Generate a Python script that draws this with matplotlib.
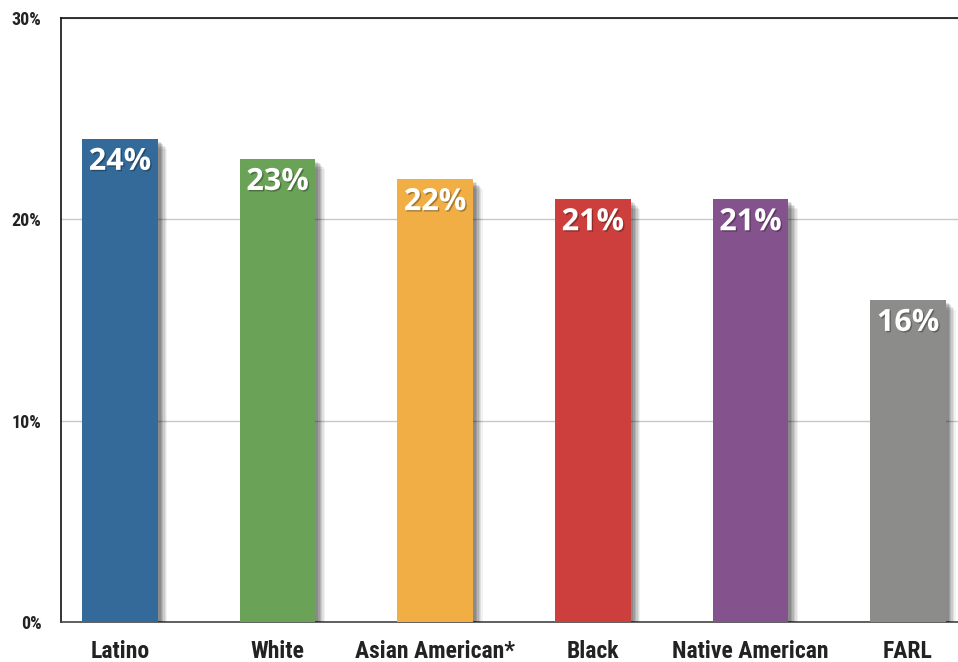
import numpy as np
import matplotlib as mpl
import matplotlib.pyplot as plt
import matplotlib.patheffects as pe
from matplotlib import font_manager

# Chart data
categories = ['Latino', 'White', 'Asian American*', 'Black', 'Native American', 'FARL']
values = [24, 23, 22, 21, 21, 16]
colors = ['#336a9a', '#6aa257', '#f0ae45', '#cd3f3c', '#84528c', '#8c8d8b']
yticks = [0, 10, 20, 30]
ytick_labels = ['0%', '10%', '20%', '30%']

# pick a narrow bold face if one is installed
names = set(f.name for f in font_manager.fontManager.ttflist)
narrow = [n for n in ['Liberation Sans Narrow', 'DejaVu Sans Condensed', 'Roboto Condensed']
          if n in names] + ['DejaVu Sans']
mpl.rcParams['font.family'] = narrow
mpl.rcParams['font.stretch'] = 'condensed'

W, H = 958, 662
fig = plt.figure(figsize=(W / 100, H / 100), dpi=100)
ax = fig.add_axes([61 / W, 40 / H, (W - 61) / W, (622 - 18) / H])

x = np.arange(len(categories))

# soft drop shadow made from a few offset layers
shadow = [pe.SimplePatchShadow(offset=(o, -o), shadow_rgbFace='black', alpha=a)
          for o, a in [(7, 0.05), (6, 0.07), (5, 0.09), (4, 0.11), (3, 0.12), (2, 0.12)]]
bars = ax.bar(x, values, width=0.48, color=colors, zorder=3)
for b in bars:
    b.set_path_effects(shadow + [pe.Normal()])

for xi, v in zip(x, values):
    ax.text(xi, v - 0.4, '%d%%' % v, ha='center', va='top', color='white',
            fontsize=22, fontweight='bold', family=['Open Sans', 'DejaVu Sans'],
            fontstretch='normal', zorder=4,
            path_effects=[pe.withSimplePatchShadow(offset=(1, -1), shadow_rgbFace='black', alpha=0.3)])

ax.set_xlim(-0.374, 5.317)
ax.set_ylim(0, 30)
ax.set_yticks(yticks)
ax.set_yticklabels(ytick_labels, fontsize=13, fontweight='bold', color='#222222')
ax.set_xticks(x)
ax.set_xticklabels(categories, fontsize=17, fontweight='bold', color='#222222')
ax.tick_params(axis='y', length=0, pad=14)
ax.tick_params(axis='x', length=0, pad=13)

ax.yaxis.grid(True, color='#c8c8c8', linewidth=1, zorder=0)
ax.set_axisbelow(True)
ax.spines['right'].set_visible(False)
ax.spines['left'].set_color('#111111')
ax.spines['top'].set_color('#111111')
ax.spines['bottom'].set_color('#444444')
for s in ax.spines.values():
    s.set_linewidth(1.2)

plt.savefig('out.png', dpi=100)
